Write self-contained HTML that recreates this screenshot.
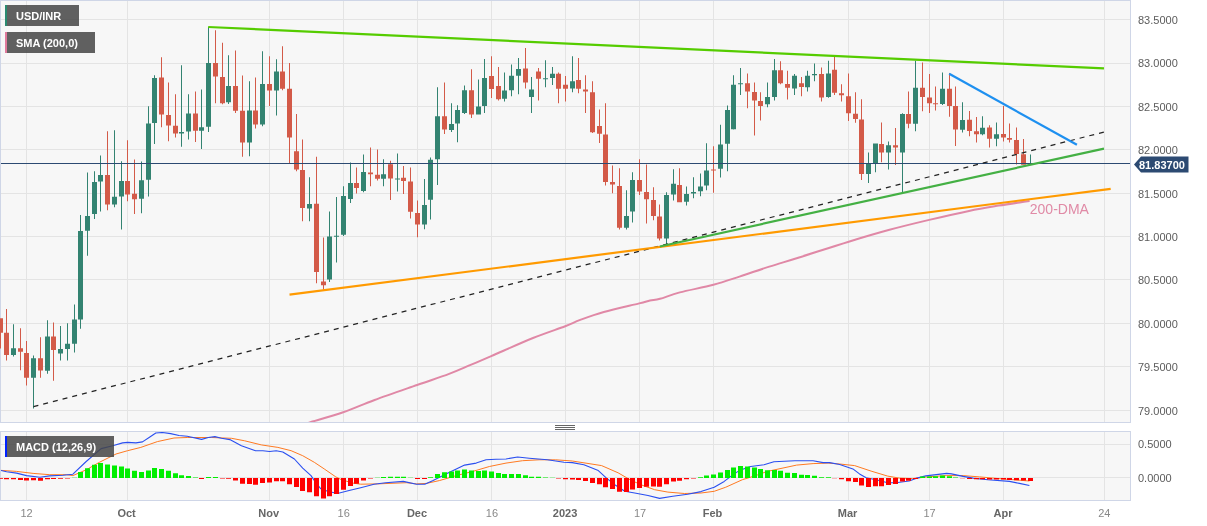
<!DOCTYPE html><html><head><meta charset="utf-8"><style>html,body{margin:0;padding:0;background:#fff;}svg{display:block;font-family:"Liberation Sans",sans-serif;will-change:transform;}</style></head><body><svg width="1207" height="526" viewBox="0 0 1207 526"><defs><clipPath id="cm"><rect x="0" y="1" width="1130" height="421"/></clipPath><clipPath id="cd"><rect x="1" y="432" width="1129" height="68"/></clipPath></defs><rect x="0" y="0" width="1207" height="526" fill="#ffffff"/><rect x="0.5" y="0.5" width="1130" height="422" fill="#f7f7f7" stroke="#cfd6e7" stroke-width="1"/><rect x="0.5" y="431.5" width="1130" height="69" fill="#f7f7f7" stroke="#cfd6e7" stroke-width="1"/><path d="M26.5 1V422M26.5 432V500M127.5 1V422M127.5 432V500M269.5 1V422M269.5 432V500M343.5 1V422M343.5 432V500M417.5 1V422M417.5 432V500M491.5 1V422M491.5 432V500M565.5 1V422M565.5 432V500M639.5 1V422M639.5 432V500M713.5 1V422M713.5 432V500M848.5 1V422M848.5 432V500M929.5 1V422M929.5 432V500M1003.5 1V422M1003.5 432V500M1104.5 1V422M1104.5 432V500M1 19.5H1130M1 63.5H1130M1 106.5H1130M1 149.5H1130M1 193.5H1130M1 236.5H1130M1 279.5H1130M1 323.5H1130M1 366.5H1130M1 410.5H1130M1 444.5H1130M1 477.5H1130" stroke="#e4e4e4" stroke-width="1" fill="none"/><path d="M555 425.5H575M555 427.5H575M555 429.5H575" stroke="#666" stroke-width="1"/><g clip-path="url(#cm)"><path d="M13 324.3h1V356.5h-1ZM11 348.3h5v6.7h-5ZM33 355.5h1V408.4h-1ZM31 358.2h5v19.5h-5ZM47 320.2h1V373.7h-1ZM45 336.5h5v34.2h-5ZM60 326.1h1V360.5h-1ZM58 349.1h5v4.4h-5ZM67 323.3h1V360.5h-1ZM65 343.8h5v5.2h-5ZM74 304.6h1V352.4h-1ZM72 319.5h5v24.3h-5ZM80 214.9h1V328.7h-1ZM78 230.9h5v88.7h-5ZM87 172.4h1V255.7h-1ZM85 215.9h5v14.8h-5ZM94 171.2h1V219.0h-1ZM92 182.0h5v32.0h-5ZM100 155.5h1V211.4h-1ZM98 175.1h5v6.5h-5ZM114 130.3h1V207.3h-1ZM112 196.8h5v7.8h-5ZM121 161.2h1V229.5h-1ZM119 181.1h5v15.3h-5ZM141 161.6h1V213.2h-1ZM139 180.2h5v18.6h-5ZM148 106.3h1V196.4h-1ZM146 123.6h5v56.1h-5ZM154 75.3h1V144.0h-1ZM152 78.0h5v45.1h-5ZM181 65.3h1V146.8h-1ZM179 132.1h5v1.3h-5ZM188 94.2h1V139.4h-1ZM186 113.5h5v18.1h-5ZM201 89.4h1V149.0h-1ZM199 127.3h5v3.4h-5ZM208 27.0h1V132.1h-1ZM206 63.0h5v63.7h-5ZM228 55.3h1V104.0h-1ZM226 86.0h5v16.3h-5ZM249 81.2h1V156.2h-1ZM247 110.4h5v32.2h-5ZM262 51.2h1V126.3h-1ZM260 83.9h5v40.6h-5ZM276 59.3h1V115.5h-1ZM274 71.6h5v18.9h-5ZM309 177.3h1V221.2h-1ZM307 204.0h5v4.5h-5ZM329 211.5h1V282.1h-1ZM327 236.5h5v43.0h-5ZM336 197.1h1V262.4h-1ZM334 235.7h5v1.0h-5ZM343 186.3h1V236.0h-1ZM341 195.9h5v38.9h-5ZM350 162.5h1V203.1h-1ZM348 182.9h5v16.1h-5ZM363 154.4h1V192.3h-1ZM361 171.9h5v19.1h-5ZM383 159.2h1V186.3h-1ZM381 174.2h5v4.5h-5ZM397 153.5h1V191.4h-1ZM395 178.4h5v1.0h-5ZM424 179.1h1V229.3h-1ZM422 205.0h5v19.4h-5ZM430 157.4h1V219.4h-1ZM428 159.8h5v39.9h-5ZM437 87.3h1V185.0h-1ZM435 116.2h5v43.0h-5ZM451 103.2h1V132.1h-1ZM449 123.9h5v6.0h-5ZM457 105.3h1V142.3h-1ZM455 110.0h5v13.4h-5ZM464 85.5h1V114.0h-1ZM462 90.2h5v22.9h-5ZM478 79.4h1V114.4h-1ZM476 106.4h5v8.0h-5ZM484 59.0h1V113.1h-1ZM482 77.9h5v28.0h-5ZM504 72.5h1V101.4h-1ZM502 90.5h5v8.2h-5ZM511 64.4h1V96.3h-1ZM509 75.7h5v14.5h-5ZM518 58.0h1V94.2h-1ZM516 68.9h5v6.8h-5ZM531 77.0h1V113.1h-1ZM529 89.6h5v7.3h-5ZM545 60.2h1V87.3h-1ZM543 78.3h5v1.0h-5ZM552 67.1h1V85.1h-1ZM550 73.8h5v4.1h-5ZM572 56.2h1V92.3h-1ZM570 81.2h5v7.2h-5ZM626 190.3h1V229.6h-1ZM624 216.0h5v11.7h-5ZM632 172.3h1V222.4h-1ZM630 180.1h5v31.4h-5ZM666 192.3h1V244.1h-1ZM664 195.0h5v43.5h-5ZM673 169.2h1V200.5h-1ZM671 183.7h5v10.7h-5ZM686 186.4h1V205.4h-1ZM684 194.0h5v7.7h-5ZM693 177.3h1V198.3h-1ZM691 192.1h5v1.5h-5ZM700 173.4h1V196.3h-1ZM698 186.4h5v4.9h-5ZM706 143.3h1V190.3h-1ZM704 170.4h5v15.1h-5ZM720 124.8h1V177.5h-1ZM718 144.4h5v24.4h-5ZM727 105.5h1V171.3h-1ZM725 110.1h5v33.7h-5ZM733 75.2h1V129.6h-1ZM731 84.8h5v44.4h-5ZM740 68.0h1V95.1h-1ZM738 83.3h5v1.0h-5ZM767 82.4h1V107.3h-1ZM765 96.9h5v7.4h-5ZM774 59.0h1V100.5h-1ZM772 70.3h5v26.6h-5ZM794 73.9h1V95.1h-1ZM792 75.7h5v12.7h-5ZM807 70.7h1V91.4h-1ZM805 75.7h5v11.6h-5ZM814 63.5h1V81.2h-1ZM812 73.9h5v1.3h-5ZM828 60.8h1V97.8h-1ZM826 73.4h5v23.5h-5ZM868 152.4h1V183.1h-1ZM866 163.8h5v10.3h-5ZM875 143.4h1V172.3h-1ZM873 143.4h5v20.4h-5ZM888 141.6h1V169.6h-1ZM886 145.2h5v7.2h-5ZM902 113.2h1V192.1h-1ZM900 114.0h5v38.4h-5ZM915 60.8h1V131.2h-1ZM913 87.8h5v35.9h-5ZM942 72.5h1V105.0h-1ZM940 88.7h5v15.4h-5ZM962 102.3h1V132.4h-1ZM960 119.9h5v9.8h-5ZM982 116.2h1V135.2h-1ZM980 127.8h5v6.5h-5ZM996 122.5h1V146.3h-1ZM994 134.2h5v4.5h-5ZM1030 154.4h1V163.4h-1ZM1028 163.4h5v1.0h-5Z" fill="#338371"/><path d="M0 318.2h1V348.6h-1ZM-2 318.2h5v14.5h-5ZM6 309.1h1V360.5h-1ZM4 332.7h5v22.3h-5ZM20 328.3h1V370.2h-1ZM18 348.3h5v3.4h-5ZM26 341.0h1V385.6h-1ZM24 352.9h5v24.8h-5ZM40 337.2h1V377.7h-1ZM38 358.2h5v12.2h-5ZM53 322.5h1V380.7h-1ZM51 336.5h5v13.4h-5ZM107 131.2h1V210.3h-1ZM105 175.1h5v29.5h-5ZM127 140.3h1V201.3h-1ZM125 181.1h5v13.5h-5ZM134 159.4h1V214.0h-1ZM132 193.7h5v5.5h-5ZM161 57.2h1V127.3h-1ZM159 77.4h5v37.2h-5ZM168 82.5h1V141.2h-1ZM166 115.0h5v10.5h-5ZM175 94.2h1V137.5h-1ZM173 125.8h5v7.6h-5ZM195 91.5h1V142.0h-1ZM193 113.5h5v17.2h-5ZM215 30.3h1V103.2h-1ZM213 63.0h5v13.5h-5ZM222 42.7h1V104.2h-1ZM220 77.0h5v26.2h-5ZM235 50.5h1V113.1h-1ZM233 86.0h5v24.8h-5ZM242 75.6h1V156.7h-1ZM240 110.8h5v31.8h-5ZM255 77.4h1V128.5h-1ZM253 110.4h5v14.1h-5ZM269 56.2h1V105.9h-1ZM267 83.9h5v6.6h-5ZM282 46.3h1V90.2h-1ZM280 71.6h5v17.1h-5ZM289 63.1h1V163.4h-1ZM287 88.7h5v48.9h-5ZM296 114.0h1V171.2h-1ZM294 151.3h5v18.1h-5ZM302 139.4h1V221.2h-1ZM300 170.0h5v38.0h-5ZM316 156.7h1V283.3h-1ZM314 203.7h5v68.2h-5ZM323 237.6h1V289.4h-1ZM321 281.4h5v3.8h-5ZM356 167.4h1V193.5h-1ZM354 182.9h5v5.2h-5ZM370 147.5h1V186.3h-1ZM368 172.4h5v1.8h-5ZM377 149.5h1V180.5h-1ZM375 174.8h5v3.9h-5ZM390 160.7h1V200.0h-1ZM388 164.3h5v14.1h-5ZM403 166.1h1V194.1h-1ZM401 177.8h5v3.1h-5ZM410 167.5h1V218.5h-1ZM408 181.4h5v30.3h-5ZM417 200.5h1V237.3h-1ZM415 213.1h5v11.3h-5ZM444 82.4h1V133.9h-1ZM442 116.2h5v13.2h-5ZM471 69.2h1V118.0h-1ZM469 90.2h5v24.2h-5ZM491 56.2h1V98.1h-1ZM489 76.1h5v13.0h-5ZM498 67.1h1V100.5h-1ZM496 86.0h5v13.2h-5ZM525 48.1h1V88.4h-1ZM523 68.5h5v13.9h-5ZM538 68.0h1V100.5h-1ZM536 71.6h5v7.2h-5ZM558 72.5h1V103.2h-1ZM556 73.8h5v14.9h-5ZM565 76.1h1V101.4h-1ZM563 84.8h5v3.9h-5ZM578 58.0h1V93.2h-1ZM576 80.1h5v8.6h-5ZM585 75.2h1V113.1h-1ZM583 89.6h5v1.8h-5ZM592 81.2h1V133.1h-1ZM590 92.3h5v39.9h-5ZM599 109.5h1V143.0h-1ZM597 125.9h5v7.8h-5ZM605 103.2h1V185.5h-1ZM603 134.4h5v47.5h-5ZM612 165.6h1V193.2h-1ZM610 181.9h5v2.7h-5ZM619 168.3h1V229.6h-1ZM617 186.0h5v41.7h-5ZM639 159.3h1V195.0h-1ZM637 180.1h5v11.3h-5ZM646 164.4h1V223.4h-1ZM644 191.9h5v7.4h-5ZM653 187.3h1V220.3h-1ZM651 199.9h5v16.2h-5ZM659 204.5h1V240.4h-1ZM657 216.5h5v22.0h-5ZM679 168.3h1V202.3h-1ZM677 184.9h5v17.4h-5ZM713 146.3h1V192.7h-1ZM711 169.5h5v1.0h-5ZM747 73.4h1V108.3h-1ZM745 83.3h5v8.1h-5ZM754 82.4h1V135.5h-1ZM752 92.0h5v8.5h-5ZM760 92.3h1V120.5h-1ZM758 101.0h5v4.9h-5ZM780 61.3h1V84.2h-1ZM778 70.3h5v13.0h-5ZM787 70.7h1V99.6h-1ZM785 83.9h5v3.9h-5ZM801 77.0h1V96.3h-1ZM799 83.3h5v3.6h-5ZM821 67.4h1V101.4h-1ZM819 73.9h5v23.5h-5ZM834 57.1h1V95.1h-1ZM832 69.8h5v22.9h-5ZM841 84.2h1V101.4h-1ZM839 93.2h5v2.1h-5ZM848 73.4h1V121.0h-1ZM846 96.3h5v16.9h-5ZM855 92.3h1V122.8h-1ZM853 113.8h5v5.1h-5ZM861 99.2h1V180.0h-1ZM859 119.6h5v54.5h-5ZM881 122.6h1V162.3h-1ZM879 143.9h5v8.5h-5ZM895 128.0h1V165.1h-1ZM893 145.2h5v2.3h-5ZM908 91.4h1V128.2h-1ZM906 114.0h5v9.7h-5ZM922 62.6h1V111.3h-1ZM920 87.8h5v9.1h-5ZM929 73.9h1V113.1h-1ZM927 97.4h5v5.8h-5ZM935 86.6h1V110.4h-1ZM933 103.2h5v1.0h-5ZM949 72.9h1V116.7h-1ZM947 88.7h5v17.2h-5ZM955 86.6h1V146.1h-1ZM953 105.9h5v23.6h-5ZM969 111.0h1V136.2h-1ZM967 119.7h5v11.3h-5ZM976 117.0h1V142.5h-1ZM974 131.3h5v2.9h-5ZM989 125.2h1V147.4h-1ZM987 127.5h5v11.2h-5ZM1003 105.9h1V141.5h-1ZM1001 134.1h5v3.4h-5ZM1009 123.4h1V142.4h-1ZM1007 137.9h5v1.8h-5ZM1016 127.5h1V164.4h-1ZM1014 140.1h5v13.8h-5ZM1023 139.0h1V164.8h-1ZM1021 154.3h5v10.5h-5Z" fill="#d35a48"/></g><g clip-path="url(#cm)" fill="none" stroke-linecap="butt"><path d="M300,425.5C301.50,425.02 301.80,424.80 309,422.6C316.20,420.40 332.27,416.07 343.2,412.3C354.13,408.53 362.28,404.55 374.6,400C386.92,395.45 404.68,389.35 417.1,385C429.52,380.65 440.28,377.20 449.1,373.9C457.92,370.60 462.98,368.17 470,365.2C477.02,362.23 480.70,360.63 491.2,356.1C501.70,351.57 520.67,342.98 533,338C545.33,333.02 557.33,329.22 565.2,326.2C573.07,323.18 573.77,322.27 580.2,319.9C586.63,317.53 593.97,314.75 603.8,312C613.63,309.25 631.50,305.30 639.2,303.4C646.90,301.50 646.53,301.37 650,300.6C653.47,299.83 655.03,300.17 660,298.8C664.97,297.43 670.90,294.73 679.8,292.4C688.70,290.07 703.45,287.43 713.4,284.8C723.35,282.17 730.18,279.63 739.5,276.6C748.82,273.57 759.37,269.78 769.3,266.6C779.23,263.42 785.87,261.65 799.1,257.5C812.33,253.35 833.63,246.32 848.7,241.7C863.77,237.08 876.08,233.43 889.5,229.8C902.92,226.17 915.95,223.05 929.2,219.9C942.45,216.75 957.40,213.28 969,210.9C980.60,208.52 988.70,207.27 998.8,205.6C1008.90,203.93 1024.47,201.68 1029.6,200.9" stroke="#e088a6" stroke-width="2.0"/><path d="M1 163.5H1130" stroke="#2c4a72" stroke-width="1.2"/><path d="M33.5 406.6L1104 132" stroke="#222" stroke-width="1.25" stroke-dasharray="5 5"/><path d="M289.5 294.7L1110.7 188.8" stroke="#ff9a00" stroke-width="2.2"/><path d="M659.8 246.5L1104 148.6" stroke="#44b044" stroke-width="2.2"/><path d="M208.2 27L1104 68.4" stroke="#55cc00" stroke-width="2.2"/><path d="M949.2 73.8L1076.9 144.7" stroke="#1e90f0" stroke-width="2.2"/></g><text x="1029.8" y="214" font-size="14" fill="#e08aa6">200-DMA</text><g clip-path="url(#cd)" fill="none" stroke-linejoin="round"><polyline points="0.0,470.3 16.6,471.4 33.1,473.4 49.7,474.7 66.3,474.7 72.9,475.6 86.2,469.8 99.4,462.3 116.0,454.0 127.6,450.7 140.8,447.4 157.4,441.6 174.0,438.0 187.2,437.5 211.6,437.5 231.5,438.3 244.7,440.8 261.3,444.9 277.9,447.4 291.1,450.7 302.7,455.7 314.3,462.3 324.2,468.9 335.8,476.9 340.8,479.4 352.4,483.0 360.7,484.2 377.3,483.9 406.6,482.7 416.5,483.9 426.5,483.4 439.7,480.5 456.3,475.6 472.9,471.4 489.4,466.5 506.0,463.1 522.6,460.7 539.1,459.8 555.7,459.8 572.3,461.0 601.6,465.6 618.1,472.8 631.4,480.5 643.0,485.5 654.6,489.7 667.9,492.1 684.4,493.5 701.0,493.0 714.2,491.3 725.8,487.2 742.4,479.7 755.7,475.6 767.3,471.4 796.6,465.1 813.1,463.6 828.1,463.1 839.7,464.0 854.6,465.6 871.1,471.1 887.7,476.1 899.3,478.1 912.6,478.6 929.1,476.7 946.6,475.6 963.1,475.6 979.7,476.9 996.3,478.4 1012.9,479.7 1029.4,481.0" stroke="#ff7a22" stroke-width="1.0"/><polyline points="0.0,470.3 6.6,471.8 16.6,473.1 26.5,475.6 39.8,477.2 49.7,475.9 63.0,475.2 72.9,474.2 86.2,461.5 101.1,448.6 112.7,445.7 122.6,442.9 127.6,442.4 135.9,442.9 142.5,441.9 149.1,437.5 155.8,433.0 162.4,432.5 170.7,433.6 179.0,435.5 187.2,436.3 201.6,439.4 208.3,437.5 214.9,436.6 221.5,438.3 229.8,439.6 241.4,445.7 255.5,450.7 262.9,450.7 269.6,451.5 276.2,450.7 282.8,452.0 294.4,459.0 302.7,468.1 311.0,475.6 316.0,483.0 320.9,488.8 327.6,491.3 337.5,493.5 349.1,490.5 360.7,487.7 374.0,484.3 385.6,482.7 403.3,481.4 416.5,484.3 424.8,484.3 433.1,480.5 448.0,473.1 464.6,465.1 476.2,463.1 486.1,459.8 496.0,459.3 506.0,459.0 517.6,457.0 529.2,458.2 547.4,459.8 564.0,462.3 572.3,462.6 583.9,464.8 598.3,470.6 606.5,478.1 614.8,484.7 624.8,491.3 634.7,493.0 648.0,495.5 659.6,498.4 672.8,496.3 687.7,494.3 701.0,491.6 714.2,487.2 724.2,481.4 730.8,476.4 739.1,470.6 750.7,466.5 764.0,464.8 773.9,461.8 794.9,460.7 813.1,460.7 823.1,462.6 829.7,462.6 839.7,464.5 852.9,468.9 859.5,473.9 866.2,477.7 876.1,479.7 887.7,482.7 896.0,482.7 909.2,481.0 915.9,478.4 925.8,475.9 938.3,474.4 946.6,473.4 951.5,473.9 963.1,476.4 973.1,478.1 988.0,479.7 1009.5,481.4 1019.5,483.4 1029.4,485.5" stroke="#2a4ff0" stroke-width="1.1"/></g><path d="M72 477.70h5V478.0h-5ZM78 471.90h5V478.0h-5ZM85 468.20h5V478.0h-5ZM92 464.70h5V478.0h-5ZM98 463.10h5V478.0h-5ZM105 464.40h5V478.0h-5ZM112 465.60h5V478.0h-5ZM119 466.40h5V478.0h-5ZM125 468.60h5V478.0h-5ZM132 470.70h5V478.0h-5ZM139 471.90h5V478.0h-5ZM146 470.40h5V478.0h-5ZM152 467.90h5V478.0h-5ZM159 468.90h5V478.0h-5ZM166 470.70h5V478.0h-5ZM173 473.20h5V478.0h-5ZM179 475.20h5V478.0h-5ZM186 476.00h5V478.0h-5ZM193 477.50h5V478.0h-5ZM206 477.00h5V478.0h-5ZM213 477.00h5V478.0h-5ZM375 477.70h5V478.0h-5ZM381 477.00h5V478.0h-5ZM388 476.80h5V478.0h-5ZM395 476.80h5V478.0h-5ZM401 476.80h5V478.0h-5ZM408 477.70h5V478.0h-5ZM428 477.20h5V478.0h-5ZM435 473.90h5V478.0h-5ZM442 472.20h5V478.0h-5ZM449 471.40h5V478.0h-5ZM455 470.50h5V478.0h-5ZM462 469.40h5V478.0h-5ZM469 470.50h5V478.0h-5ZM476 471.00h5V478.0h-5ZM482 470.50h5V478.0h-5ZM489 471.40h5V478.0h-5ZM496 473.00h5V478.0h-5ZM502 473.90h5V478.0h-5ZM509 473.90h5V478.0h-5ZM516 473.90h5V478.0h-5ZM523 475.20h5V478.0h-5ZM529 476.80h5V478.0h-5ZM536 476.80h5V478.0h-5ZM543 477.50h5V478.0h-5ZM550 477.70h5V478.0h-5ZM698 477.20h5V478.0h-5ZM704 475.50h5V478.0h-5ZM711 474.40h5V478.0h-5ZM718 472.40h5V478.0h-5ZM725 469.90h5V478.0h-5ZM731 467.40h5V478.0h-5ZM738 466.10h5V478.0h-5ZM745 466.40h5V478.0h-5ZM752 467.40h5V478.0h-5ZM758 469.10h5V478.0h-5ZM765 470.20h5V478.0h-5ZM772 469.90h5V478.0h-5ZM778 470.80h5V478.0h-5ZM785 472.70h5V478.0h-5ZM792 473.00h5V478.0h-5ZM799 474.70h5V478.0h-5ZM805 475.00h5V478.0h-5ZM812 475.80h5V478.0h-5ZM819 477.20h5V478.0h-5ZM826 477.20h5V478.0h-5ZM920 476.50h5V478.0h-5ZM927 476.50h5V478.0h-5ZM933 476.30h5V478.0h-5ZM940 475.60h5V478.0h-5ZM947 476.30h5V478.0h-5ZM953 477.50h5V478.0h-5Z" fill="#00ee00"/><path d="M-2 478.0h5V478.80h-5ZM4 478.0h5V479.20h-5ZM11 478.0h5V479.20h-5ZM18 478.0h5V480.00h-5ZM24 478.0h5V480.50h-5ZM31 478.0h5V480.30h-5ZM38 478.0h5V480.80h-5ZM45 478.0h5V479.30h-5ZM51 478.0h5V479.00h-5ZM58 478.0h5V478.80h-5ZM65 478.0h5V478.50h-5ZM199 478.0h5V479.00h-5ZM220 478.0h5V478.50h-5ZM226 478.0h5V478.80h-5ZM233 478.0h5V480.60h-5ZM240 478.0h5V483.80h-5ZM247 478.0h5V484.00h-5ZM253 478.0h5V484.80h-5ZM260 478.0h5V483.10h-5ZM267 478.0h5V482.60h-5ZM274 478.0h5V481.30h-5ZM280 478.0h5V481.30h-5ZM287 478.0h5V484.30h-5ZM294 478.0h5V487.10h-5ZM300 478.0h5V490.90h-5ZM307 478.0h5V492.30h-5ZM314 478.0h5V496.20h-5ZM321 478.0h5V498.40h-5ZM327 478.0h5V496.20h-5ZM334 478.0h5V493.90h-5ZM341 478.0h5V489.80h-5ZM348 478.0h5V486.00h-5ZM354 478.0h5V483.80h-5ZM361 478.0h5V480.50h-5ZM368 478.0h5V478.50h-5ZM415 478.0h5V479.00h-5ZM422 478.0h5V479.00h-5ZM556 478.0h5V478.50h-5ZM563 478.0h5V479.20h-5ZM570 478.0h5V479.50h-5ZM576 478.0h5V480.00h-5ZM583 478.0h5V481.00h-5ZM590 478.0h5V483.10h-5ZM597 478.0h5V484.30h-5ZM603 478.0h5V487.30h-5ZM610 478.0h5V488.90h-5ZM617 478.0h5V491.80h-5ZM624 478.0h5V492.10h-5ZM630 478.0h5V489.60h-5ZM637 478.0h5V488.10h-5ZM644 478.0h5V486.80h-5ZM651 478.0h5V486.50h-5ZM657 478.0h5V486.80h-5ZM664 478.0h5V484.30h-5ZM671 478.0h5V481.50h-5ZM677 478.0h5V480.70h-5ZM684 478.0h5V479.30h-5ZM691 478.0h5V478.50h-5ZM832 478.0h5V478.30h-5ZM839 478.0h5V479.20h-5ZM846 478.0h5V481.30h-5ZM853 478.0h5V482.10h-5ZM859 478.0h5V485.50h-5ZM866 478.0h5V487.10h-5ZM873 478.0h5V486.30h-5ZM879 478.0h5V486.30h-5ZM886 478.0h5V485.10h-5ZM893 478.0h5V484.10h-5ZM900 478.0h5V481.60h-5ZM906 478.0h5V480.80h-5ZM913 478.0h5V479.00h-5ZM960 478.0h5V478.30h-5ZM967 478.0h5V479.10h-5ZM974 478.0h5V479.20h-5ZM980 478.0h5V479.20h-5ZM987 478.0h5V479.50h-5ZM994 478.0h5V479.50h-5ZM1001 478.0h5V479.50h-5ZM1007 478.0h5V480.00h-5ZM1014 478.0h5V480.20h-5ZM1021 478.0h5V480.60h-5ZM1028 478.0h5V481.00h-5Z" fill="#ff0000"/><rect x="5" y="5" width="74" height="21" fill="#454545" fill-opacity="0.85"/><rect x="5" y="5" width="2" height="21" fill="#2a8a70"/><text x="16" y="19.6" font-size="11" font-weight="bold" fill="#fff">USD/INR</text><rect x="5" y="32" width="90" height="21" fill="#454545" fill-opacity="0.85"/><rect x="5" y="32" width="2" height="21" fill="#e07a9c"/><text x="16" y="46.5" font-size="11" font-weight="bold" fill="#fff">SMA (200,0)</text><rect x="5" y="436" width="109" height="21" fill="#454545" fill-opacity="0.85"/><rect x="5" y="436" width="2" height="21" fill="#0022ff"/><text x="16" y="450.5" font-size="11" font-weight="bold" fill="#fff">MACD (12,26,9)</text><text x="1138" y="23.7" font-size="11" fill="#5c5c5c">83.5000</text><text x="1138" y="67.1" font-size="11" fill="#5c5c5c">83.0000</text><text x="1138" y="110.6" font-size="11" fill="#5c5c5c">82.5000</text><text x="1138" y="154.0" font-size="11" fill="#5c5c5c">82.0000</text><text x="1138" y="197.5" font-size="11" fill="#5c5c5c">81.5000</text><text x="1138" y="240.9" font-size="11" fill="#5c5c5c">81.0000</text><text x="1138" y="284.3" font-size="11" fill="#5c5c5c">80.5000</text><text x="1138" y="327.8" font-size="11" fill="#5c5c5c">80.0000</text><text x="1138" y="371.2" font-size="11" fill="#5c5c5c">79.5000</text><text x="1138" y="414.7" font-size="11" fill="#5c5c5c">79.0000</text><text x="1138" y="448" font-size="11" fill="#5c5c5c">0.5000</text><text x="1138" y="481.5" font-size="11" fill="#5c5c5c">0.0000</text><path d="M1134 164.5L1141 156.5H1188.5V172.5H1141Z" fill="#2c4a72"/><text x="1139" y="168.5" font-size="11" font-weight="bold" fill="#fff">81.83700</text><text x="26.6" y="517" font-size="11" fill="#888" text-anchor="middle">12</text><text x="126.6" y="517" font-size="11" font-weight="bold" fill="#666" text-anchor="middle">Oct</text><text x="268.7" y="517" font-size="11" font-weight="bold" fill="#666" text-anchor="middle">Nov</text><text x="343.7" y="517" font-size="11" fill="#888" text-anchor="middle">16</text><text x="417.0" y="517" font-size="11" font-weight="bold" fill="#666" text-anchor="middle">Dec</text><text x="491.9" y="517" font-size="11" fill="#888" text-anchor="middle">16</text><text x="565.1" y="517" font-size="11" font-weight="bold" fill="#666" text-anchor="middle">2023</text><text x="640.0" y="517" font-size="11" fill="#888" text-anchor="middle">17</text><text x="712.5" y="517" font-size="11" font-weight="bold" fill="#666" text-anchor="middle">Feb</text><text x="847.6" y="517" font-size="11" font-weight="bold" fill="#666" text-anchor="middle">Mar</text><text x="929.5" y="517" font-size="11" fill="#888" text-anchor="middle">17</text><text x="1003.0" y="517" font-size="11" font-weight="bold" fill="#666" text-anchor="middle">Apr</text><text x="1104.3" y="517" font-size="11" fill="#888" text-anchor="middle">24</text></svg></body></html>
